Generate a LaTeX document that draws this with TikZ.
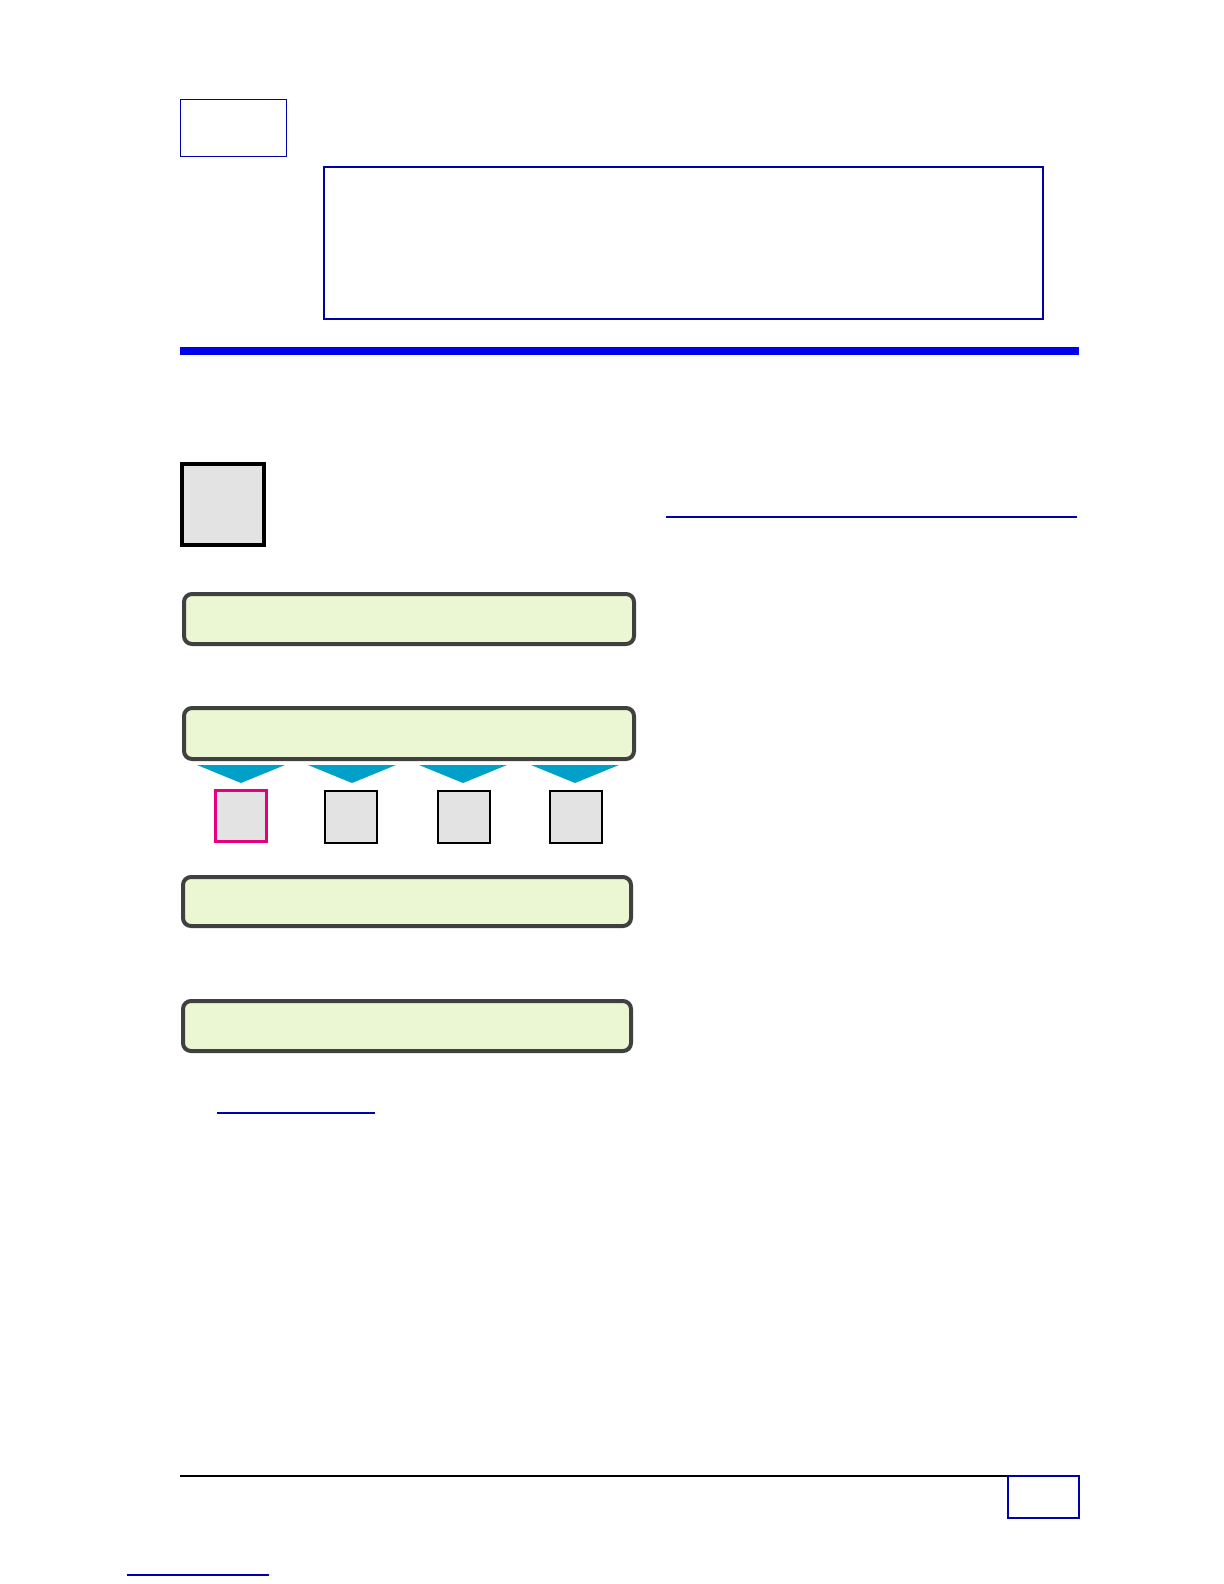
\documentclass[tikz,border=0pt]{standalone}
\usepackage{tikz}
\definecolor{linkblue}{RGB}{0,0,170}
\definecolor{barblue}{RGB}{0,0,235}
\definecolor{panelgreen}{RGB}{235,246,211}
\definecolor{panelrim}{RGB}{64,64,64}
\definecolor{tealtip}{RGB}{0,160,200}
\definecolor{hotpink}{RGB}{230,0,126}
\definecolor{chipgray}{RGB}{227,227,227}

\begin{document}
\begin{tikzpicture}[x=0.5pt,y=-0.5pt,
        frame/.style={draw=linkblue,line width=0.7pt,inner sep=0pt},
        panel/.style={draw=panelrim,fill=panelgreen,line width=2pt,
                      rounded corners=4pt,inner sep=0pt,
                      minimum width=225pt,minimum height=25pt},
        chip/.style={draw=black,fill=chipgray,line width=1pt,inner sep=0pt,
                     minimum width=26pt,minimum height=26pt},
        link/.style={draw=linkblue,line width=0.6pt}]
            \useasboundingbox (0,0) rectangle (1224,1584);
            \node[frame,minimum width=53pt,minimum height=28.5pt] (tag) at (233.5,128) {};
            \node[frame,minimum width=359.5pt,minimum height=76pt] (header) at (683.5,243) {};
            \fill[barblue] (180,347) rectangle (1079,355);
            \node[draw=black,fill=chipgray,line width=2pt,inner sep=0pt,
                  minimum width=41pt,minimum height=40.5pt] (icon) at (223,504.5) {};
            \coordinate (ref a) at (666,517);
            \coordinate (ref b) at (1077,517);
            \draw[link] (ref a) -- (ref b);
            \node[panel] (stage1) at (409,619) {};
            \node[panel,minimum height=25.5pt] (stage2) at (409,733.5) {};
            \node[chip,draw=hotpink,line width=1.5pt,minimum width=25.5pt,
                  minimum height=25.5pt] (unit1) at (241,816) {};
            \node[chip] (unit2) at (351,817) {};
            \node[chip] (unit3) at (463.5,817) {};
            \node[chip] (unit4) at (576,817) {};
            \foreach \tip in {241,352,463,575}
                \fill[tealtip] (\tip-44,765) -- (\tip+44,765) -- (\tip,783) -- cycle;
            \node[panel,minimum width=224pt,minimum height=24.5pt] (stage3) at (407,901.5) {};
            \node[panel,minimum width=224pt] (stage4) at (407,1026) {};
            \coordinate (more a) at (217,1113);
            \coordinate (more b) at (375,1113);
            \draw[link] (more a) -- (more b);
            \coordinate (foot a) at (180,1476);
            \coordinate (foot b) at (1079,1476);
            \draw[line width=0.8pt] (foot a) -- (foot b);
            \node[frame,minimum width=35.5pt,minimum height=21pt] (page) at (1043.5,1497) {};
            \coordinate (back a) at (127,1575);
            \coordinate (back b) at (269,1575);
            \draw[link] (back a) -- (back b);
        \end{tikzpicture}
\end{document}
